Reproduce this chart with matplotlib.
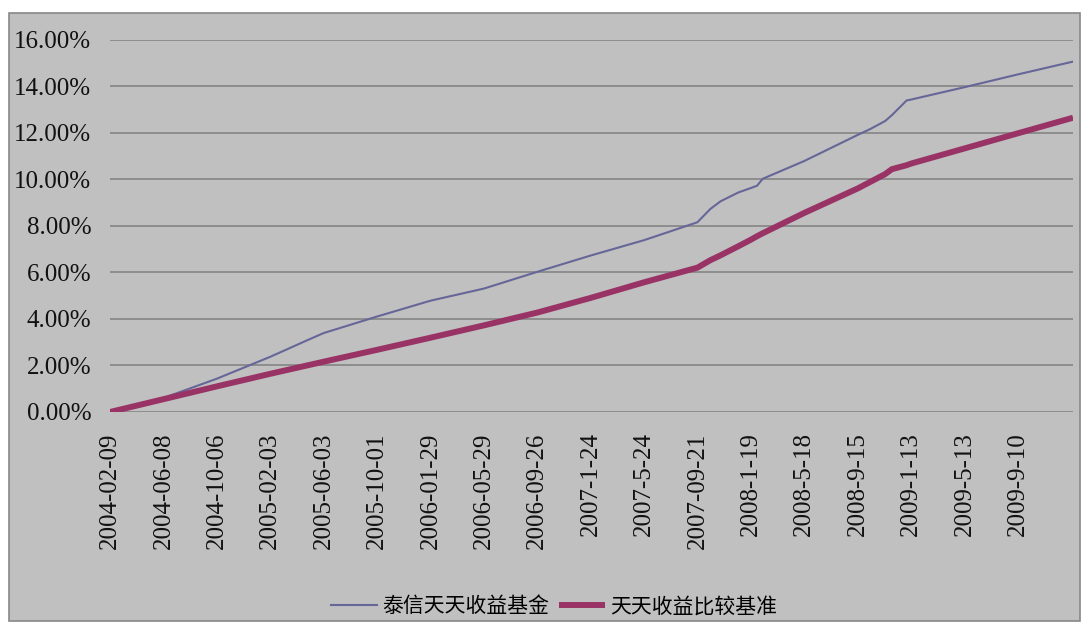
import pandas as pd
import matplotlib
matplotlib.use("Agg")
import matplotlib.pyplot as plt
from matplotlib.patches import Rectangle

# values (cumulative return, %)
dates = [
    "2004-02-09", "2004-06-08", "2004-10-06", "2005-02-03", "2005-04-27",
    "2005-06-03", "2005-10-01", "2006-01-29", "2006-05-29", "2006-09-26",
    "2007-01-24", "2007-05-24", "2007-09-21", "2007-10-20", "2007-11-12",
    "2007-12-22", "2008-01-19", "2008-02-02", "2008-02-15", "2008-05-18",
    "2008-09-15", "2008-10-13", "2008-11-16", "2008-12-01", "2009-01-03",
    "2009-01-13", "2009-05-13", "2009-09-10", "2010-01-12",
]
fund = [
    0.00, 0.60, 1.43, 2.37, 3.08,
    3.39, 4.10, 4.78, 5.30, 6.02,
    6.72, 7.38, 8.15, 8.72, 9.05,
    9.43, 9.62, 9.72, 10.02, 10.78,
    11.90, 12.15, 12.50, 12.75, 13.38,
    13.42, 13.95, 14.50, 15.05,
]
benchmark = [
    0.00, 0.55, 1.10, 1.64, 2.00,
    2.16, 2.67, 3.19, 3.72, 4.27,
    4.90, 5.57, 6.20, 6.52, 6.73,
    7.12, 7.40, 7.55, 7.68, 8.55,
    9.60, 9.88, 10.22, 10.43, 10.60,
    10.67, 11.32, 11.97, 12.64,
]

tick_dates = [
    "2004-02-09", "2004-06-08", "2004-10-06", "2005-02-03", "2005-06-03",
    "2005-10-01", "2006-01-29", "2006-05-29", "2006-09-26", "2007-01-24",
    "2007-05-24", "2007-09-21", "2008-01-19", "2008-05-18", "2008-09-15",
    "2009-01-13", "2009-05-13", "2009-09-10",
]
tick_labels = [
    "2004-02-09", "2004-06-08", "2004-10-06", "2005-02-03", "2005-06-03",
    "2005-10-01", "2006-01-29", "2006-05-29", "2006-09-26", "2007-1-24",
    "2007-5-24", "2007-09-21", "2008-1-19", "2008-5-18", "2008-9-15",
    "2009-1-13", "2009-5-13", "2009-9-10",
]
series_names = ["泰信天天收益基金", "天天收益比较基准"]

df = pd.DataFrame({"date": pd.to_datetime(dates), "fund": fund, "bench": benchmark})

plt.rcParams["font.family"] = ["Liberation Serif", "DejaVu Serif"]

W, H = 1083, 623
fig = plt.figure(figsize=(W / 100, H / 100), dpi=100)
fig.patch.set_facecolor("white")
fig.add_artist(Rectangle((9 / W, 2 / H), (1080 - 9) / W, (621 - 13) / H,
                         transform=fig.transFigure, facecolor="#C0C0C0",
                         edgecolor="#888888", lw=1.2, zorder=0))

ax = fig.add_axes([110 / W, (H - 412) / H, (1073 - 110) / W, (412 - 39.5) / H])
ax.set_facecolor("none")

ax.plot(df["date"], df["fund"], color="#666699", lw=1.5, label=series_names[0])
ax.plot(df["date"], df["bench"], color="#993366", lw=4.3,
        solid_capstyle="butt", label=series_names[1])

ax.set_ylim(0, 16)
ax.set_yticks(range(0, 17, 2))
ax.set_yticklabels([f"{v:.2f}%" for v in range(0, 17, 2)])
ax.set_xlim(pd.Timestamp(dates[0]), pd.Timestamp(dates[-1]))
ax.set_xticks(pd.to_datetime(tick_dates))
ax.set_xticklabels(tick_labels, rotation=90)

ax.tick_params(axis="both", length=0, labelsize=18, colors="#111111")
ax.tick_params(axis="y", pad=13.5)
ax.tick_params(axis="x", pad=14.5)
ax.grid(axis="y", color="#808080", lw=1.1)
ax.set_axisbelow(True)
for s in ax.spines.values():
    s.set_visible(False)

fig.legend(loc="center", bbox_to_anchor=(0.5115, 0.027), ncol=2, frameon=False,
           prop={"family": "Noto Sans CJK SC", "size": 15},
           handlelength=2.2, handletextpad=0.25, columnspacing=0.5)

fig.savefig("out.png", dpi=100)
